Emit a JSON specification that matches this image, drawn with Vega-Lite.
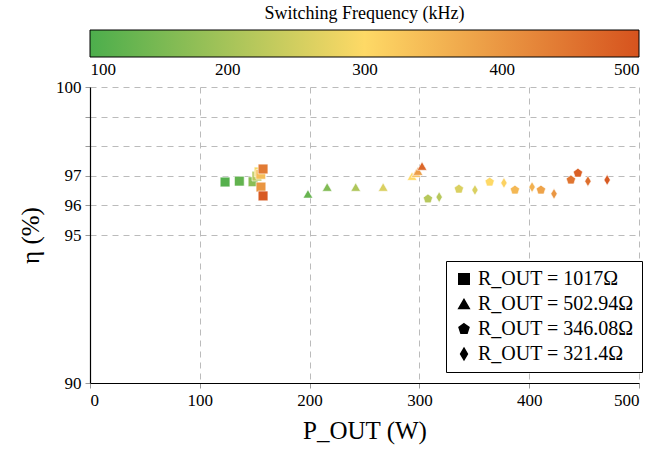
{
  "$schema": "https://vega.github.io/schema/vega-lite/v6.json",
  "autosize": {"type": "pad"},
  "padding": {"left": 18, "top": 4, "right": 10, "bottom": 5},
  "background": "white",
  "spacing": 30,
  "bounds": "flush",
  "config": {
    "font": "Liberation Serif",
    "view": {"stroke": null},
    "axis": {
      "labelFont": "Liberation Serif",
      "titleFont": "Liberation Serif",
      "labelFontSize": 17,
      "titleFontSize": 25,
      "titleFontWeight": "normal",
      "labelColor": "black",
      "titleColor": "black",
      "domainColor": "black",
      "domainWidth": 1.2,
      "tickColor": "#999999",
      "tickSize": 5,
      "gridColor": "#bbbbbb",
      "gridDash": [6, 5],
      "gridWidth": 1
    },
    "legend": {
      "labelFont": "Liberation Serif",
      "titleFont": "Liberation Serif"
    }
  },
  "vconcat": [
    {
      "width": 549,
      "height": 27,
      "title": {"text": "Switching Frequency (kHz)", "font": "Liberation Serif", "fontSize": 18, "fontWeight": "normal", "color": "black", "anchor": "middle", "offset": 7},
      "data": {"values": [{"lo": 100, "hi": 500}]},
      "mark": {
        "type": "rect",
        "stroke": "black",
        "strokeWidth": 1,
        "fill": {"gradient": "linear", "x1": 0, "y1": 0, "x2": 1, "y2": 0, "stops": [
          {"offset": 0, "color": "#4cae4c"},
          {"offset": 0.5, "color": "#fed966"},
          {"offset": 1, "color": "#d6531e"}
        ]}
      },
      "encoding": {
        "x": {
          "field": "lo",
          "type": "quantitative",
          "scale": {"domain": [100, 500], "nice": false, "zero": false},
          "axis": {"values": [100, 200, 300, 400, 500], "title": null, "domain": false, "ticks": false, "grid": false, "labelPadding": 4, "labelFontSize": 17}
        },
        "x2": {"field": "hi"}
      }
    },
    {
      "width": 549,
      "height": 296,
      "data": {
        "values": [
          {"P": 123, "eta": 96.79, "f": 110, "R": "1017"},
          {"P": 136, "eta": 96.82, "f": 125, "R": "1017"},
          {"P": 148.5, "eta": 96.8, "f": 170, "R": "1017"},
          {"P": 152, "eta": 96.99, "f": 220, "R": "1017"},
          {"P": 154, "eta": 97.13, "f": 290, "R": "1017"},
          {"P": 155.5, "eta": 97.05, "f": 340, "R": "1017"},
          {"P": 155.7, "eta": 96.62, "f": 400, "R": "1017"},
          {"P": 157.6, "eta": 97.23, "f": 440, "R": "1017"},
          {"P": 157.6, "eta": 96.32, "f": 490, "R": "1017"},
          {"P": 198.5, "eta": 96.39, "f": 130, "R": "502.94"},
          {"P": 216, "eta": 96.62, "f": 160, "R": "502.94"},
          {"P": 242, "eta": 96.62, "f": 210, "R": "502.94"},
          {"P": 267, "eta": 96.62, "f": 260, "R": "502.94"},
          {"P": 293.3, "eta": 96.99, "f": 300, "R": "502.94"},
          {"P": 297, "eta": 97.09, "f": 340, "R": "502.94"},
          {"P": 298.7, "eta": 97.16, "f": 390, "R": "502.94"},
          {"P": 302.4, "eta": 97.33, "f": 470, "R": "502.94"},
          {"P": 307.8, "eta": 96.22, "f": 220, "R": "346.08"},
          {"P": 336, "eta": 96.55, "f": 260, "R": "346.08"},
          {"P": 364, "eta": 96.79, "f": 300, "R": "346.08"},
          {"P": 387, "eta": 96.52, "f": 350, "R": "346.08"},
          {"P": 410.7, "eta": 96.52, "f": 380, "R": "346.08"},
          {"P": 438, "eta": 96.86, "f": 450, "R": "346.08"},
          {"P": 444.4, "eta": 97.09, "f": 480, "R": "346.08"},
          {"P": 318, "eta": 96.28, "f": 220, "R": "321.4"},
          {"P": 350.6, "eta": 96.52, "f": 260, "R": "321.4"},
          {"P": 377, "eta": 96.76, "f": 310, "R": "321.4"},
          {"P": 402.6, "eta": 96.62, "f": 360, "R": "321.4"},
          {"P": 422.6, "eta": 96.39, "f": 400, "R": "321.4"},
          {"P": 453.5, "eta": 96.82, "f": 460, "R": "321.4"},
          {"P": 471, "eta": 96.86, "f": 490, "R": "321.4"}
        ]
      },
      "mark": {"type": "point", "filled": true, "opacity": 1, "size": 95, "stroke": "white", "strokeWidth": 0.6},
      "encoding": {
        "x": {
          "field": "P",
          "type": "quantitative",
          "scale": {"domain": [0, 500], "nice": false, "zero": false},
          "axis": {"values": [0, 100, 200, 300, 400, 500], "title": "P_OUT (W)", "titlePadding": 10, "labelPadding": 4}
        },
        "y": {
          "field": "eta",
          "type": "quantitative",
          "scale": {"domain": [90, 100], "nice": false, "zero": false},
          "axis": {
            "values": [90, 95, 96, 97, 98, 99, 100],
            "labelExpr": "datum.value == 98 || datum.value == 99 ? '' : datum.label",
            "title": "η (%)",
            "titlePadding": 12,
            "labelPadding": 4
          }
        },
        "color": {
          "field": "f",
          "type": "quantitative",
          "scale": {"domain": [100, 300, 500], "range": ["#4cae4c", "#fed966", "#d6531e"], "interpolate": "rgb"},
          "legend": null
        },
        "shape": {
          "field": "R",
          "type": "nominal",
          "scale": {
            "domain": ["1017", "502.94", "346.08", "321.4"],
            "range": ["square", "triangle-up", "M0,-1L0.951,-0.309L0.588,0.809L-0.588,0.809L-0.951,-0.309Z", "M0,-1.1L0.65,0L0,1.1L-0.65,0Z"]
          },
          "legend": {
            "orient": "none",
            "legendX": 356,
            "legendY": 231,
            "title": null,
            "strokeColor": "black",
            "fillColor": "white",
            "padding": 8,
            "symbolFillColor": "black",
            "symbolStrokeColor": "black",
            "symbolSize": 110,
            "labelFontSize": 20,
            "labelColor": "black",
            "rowPadding": 5,
            "labelExpr": "'R_OUT = ' + datum.label + 'Ω'",
            "labelLimit": 300
          }
        }
      }
    }
  ]
}
